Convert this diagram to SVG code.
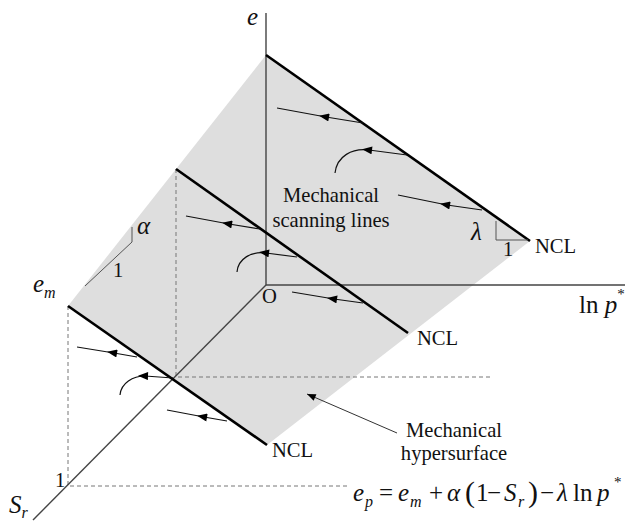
<svg xmlns="http://www.w3.org/2000/svg" width="625" height="523" viewBox="0 0 625 523">
<style>
text{font-family:"Liberation Serif","Times New Roman",serif;font-size:20.6px;fill:#111}
.i{font-style:italic}
.m{font-size:25px}
.sub{font-size:16px;font-style:italic}
.ax{stroke:#444;stroke-width:1.4;fill:none}
.dash{stroke:#777;stroke-width:1;stroke-dasharray:4 3;fill:none}
.ncl{stroke:#000;stroke-width:2.6;fill:none}
.scan{stroke:#111;stroke-width:1.2;fill:none;marker-mid:url(#ah)}
.thin{stroke:#555;stroke-width:1;fill:none}
</style>
<defs>
<marker id="ah" viewBox="0 0 10 8" refX="3" refY="4" markerWidth="11" markerHeight="8" markerUnits="userSpaceOnUse" orient="auto">
<path d="M0,0 L10,4 L0,8 z" fill="#000"/>
</marker>
<marker id="ae" viewBox="0 0 10 8" refX="10" refY="4" markerWidth="10" markerHeight="7" markerUnits="userSpaceOnUse" orient="auto">
<path d="M0,0 L10,4 L0,8 z" fill="#000"/>
</marker>
</defs>
<g id="surface">
<polygon points="266,55 530,241 267,445 68,306" fill="#dedede"/>
</g>
<g id="guides">
<path class="dash" d="M176,169 V377 H493"/>
<path class="dash" d="M68,306 V486 H347"/>
</g>
<g id="axes">
<line class="ax" x1="266" y1="13" x2="266" y2="285"/>
<line class="ax" x1="266" y1="285" x2="625" y2="285"/>
<line class="ax" x1="266" y1="285" x2="33" y2="520" stroke="#222"/>
</g>
<g id="ncl-lines">
<line class="ncl" x1="266" y1="55" x2="530" y2="241"/>
<line class="ncl" x1="176" y1="169" x2="408" y2="333"/>
<line class="ncl" x1="68" y1="306" x2="267" y2="445"/>
</g>
<g id="connectors">
<path class="scan" d="M363,123 L326,117 L277,108"/>
<path class="scan" d="M407,155 L369,150 C352,148 337,156 335,173"/>
<path class="scan" d="M482,210 L447,205 L398,195"/>
<path class="scan" d="M260,229 L229,224 L186,216"/>
<path class="scan" d="M297,257 L266,253 C251,251 238,259 237,272"/>
<path class="scan" d="M363,303 L334,299 L292,292"/>
<path class="scan" d="M137,357 L114,353 L77,347"/>
<path class="scan" d="M173,378 L145,376 C133,376 121,383 120,395"/>
<path class="scan" d="M227,421 L204,417 L167,410"/>
<line x1="397" y1="433" x2="307" y2="394" stroke="#333" stroke-width="1" marker-end="url(#ae)"/>
</g>
<g id="slopes">
<path class="thin" d="M85,286 L132,242 V227"/>
<path class="thin" d="M496,221 V240 H528"/>
</g>
<g id="labels">
<text class="i m" x="247" y="25">e</text>
<text x="33" y="292" class="i m">e<tspan class="sub" dy="6">m</tspan></text>
<text x="262" y="303">O</text>
<text x="579" y="313" class="m">ln <tspan class="i">p</tspan><tspan font-size="15" dy="-14">*</tspan></text>
<text x="9" y="513" class="i m" font-size="26">S<tspan class="sub" dy="5">r</tspan></text>
<text x="55" y="487">1</text>
<text x="113" y="277">1</text>
<text x="137" y="234" class="i m">α</text>
<text x="471" y="240" class="i m">λ</text>
<text x="503" y="256">1</text>
<text x="535" y="253">NCL</text>
<text x="417" y="345">NCL</text>
<text x="272" y="457">NCL</text>
<text x="331" y="202" text-anchor="middle">Mechanical</text>
<text x="331" y="227" text-anchor="middle">scanning lines</text>
<text x="454" y="437" text-anchor="middle">Mechanical</text>
<text x="454" y="460" text-anchor="middle">hypersurface</text>
<text y="501" class="m"><tspan x="353" class="i">e</tspan><tspan class="sub" x="365" dy="6">p</tspan><tspan x="379" dy="-6">=</tspan><tspan x="398" class="i">e</tspan><tspan class="sub" x="410" dy="6">m</tspan><tspan x="429" dy="-6">+</tspan><tspan x="447" class="i">α</tspan><tspan x="465" font-size="30" dy="1">(</tspan><tspan x="476" dy="-1">1</tspan><tspan x="487">−</tspan><tspan x="504" class="i">S</tspan><tspan class="sub" x="518" dy="6">r</tspan><tspan x="528" font-size="30" dy="-5">)</tspan><tspan x="540" dy="-1">−</tspan><tspan x="557" class="i">λ</tspan><tspan x="573">ln</tspan><tspan x="597" class="i">p</tspan><tspan x="614" font-size="15" dy="-14">*</tspan></text>
</g>
</svg>
